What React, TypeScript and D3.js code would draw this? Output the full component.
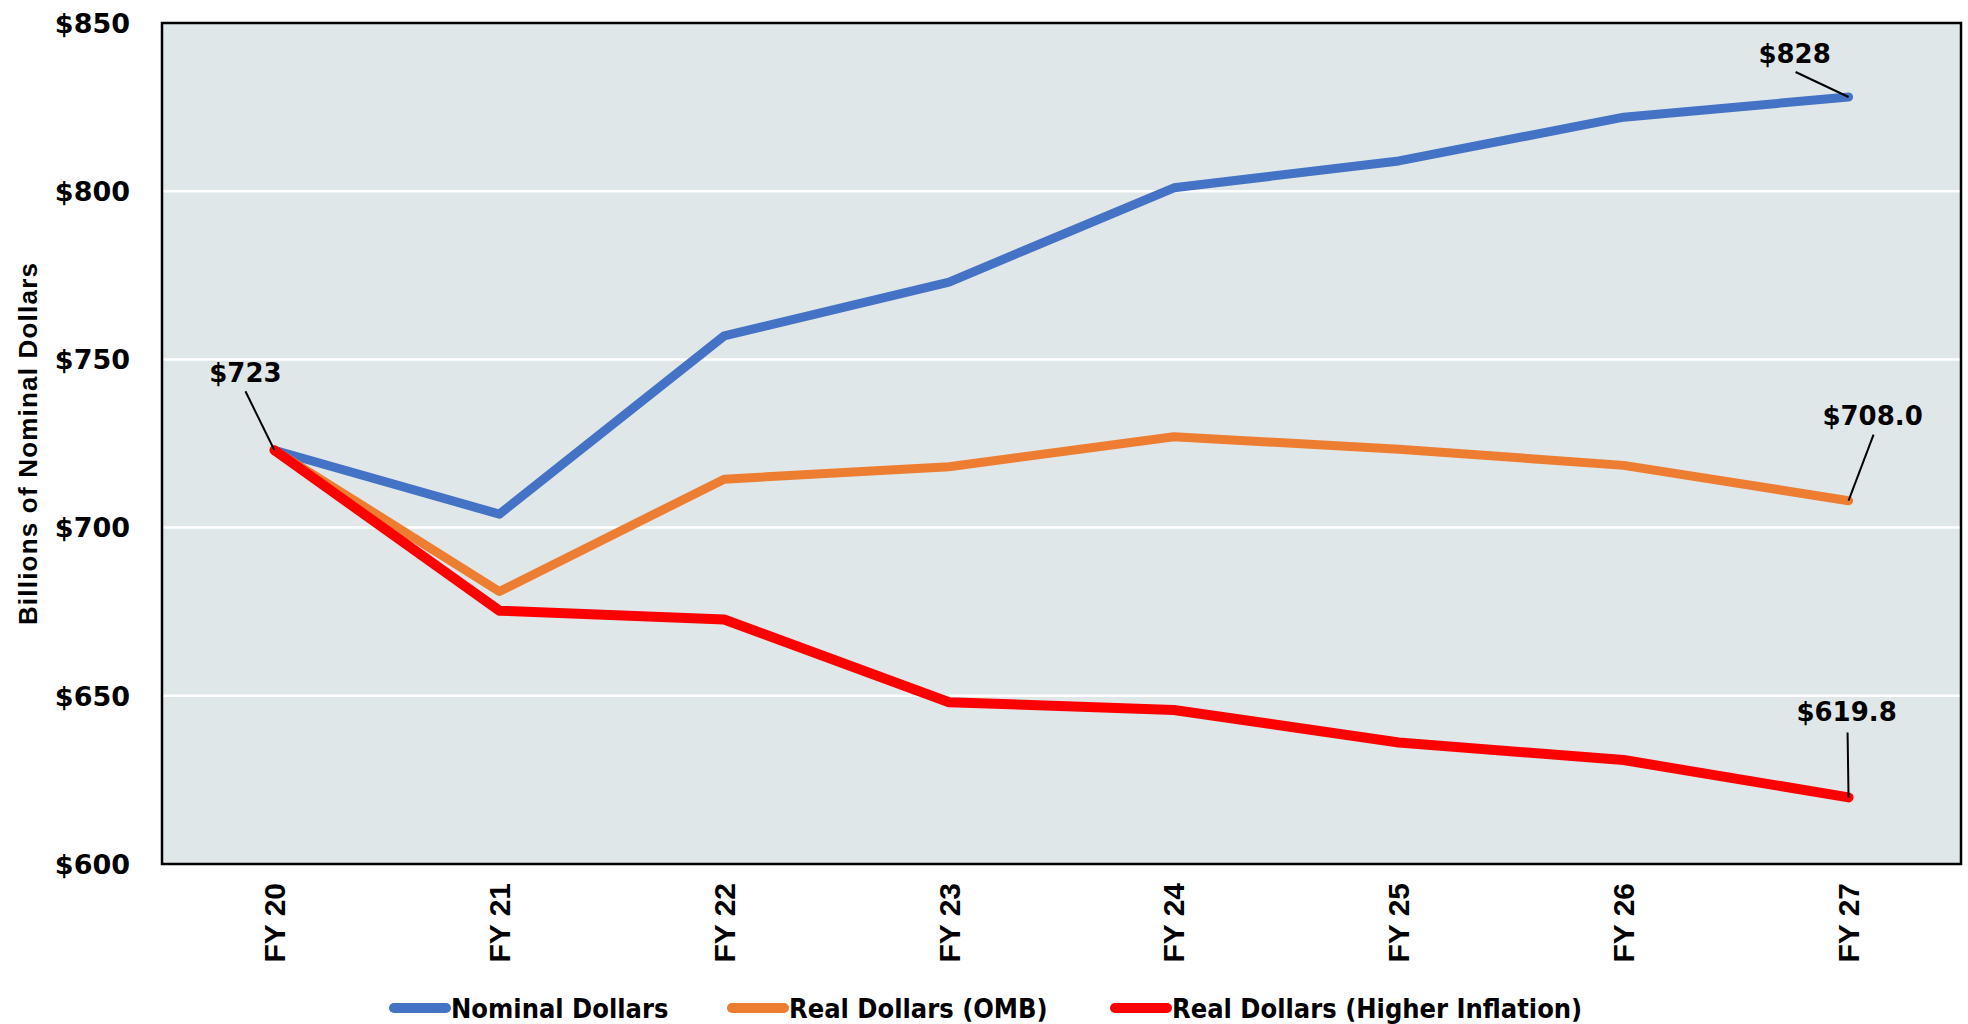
import * as d3 from "d3";
import React, { useRef, useEffect } from "react";

const years = ["FY 20", "FY 21", "FY 22", "FY 23", "FY 24", "FY 25", "FY 26", "FY 27"];
const nominal = [723, 704, 757, 773, 801, 809, 822, 828];
const realOmb = [723, 681, 714.4, 718.1, 727, 723.3, 718.5, 708.0];
const realHigh = [723, 675.3, 672.7, 648.1, 645.8, 636.1, 630.9, 619.8];
const yTicks = [600, 650, 700, 750, 800, 850];

var margin = { top: 23, right: 7, bottom: 160, left: 162 };
const W = 1968;
const H = 1024;

const series = [
  { name: "Nominal Dollars", values: nominal, color: "#4472C4", width: 9 },
  { name: "Real Dollars (OMB)", values: realOmb, color: "#ED7D31", width: 9 },
  { name: "Real Dollars (Higher Inflation)", values: realHigh, color: "#FF0000", width: 10 },
];

// annotation label offsets from the data point (dx, dy of label baseline centre, leader start)
const notes = [
  { s: 0, i: 7, text: "$828", tx: -54, ty: -34, lx: -53, ly: -25 },
  { s: 1, i: 7, text: "$708.0", tx: 24, ty: -76, lx: 25, ly: -66 },
  { s: 2, i: 7, text: "$619.8", tx: -2, ty: -76, lx: -1, ly: -65 },
  { s: 0, i: 0, text: "$723", tx: -29, ty: -68, lx: -29, ly: -59 },
];

const gotham = "'DejaVu Sans', Verdana, sans-serif";
const arial = "'Liberation Sans', Arial, sans-serif";

function App() {
  const ref = useRef<any>();

  useEffect(() => {
    const svg = d3.select(ref.current);
    svg.selectAll("*").remove();
    const width = W - margin.left - margin.right;
    const height = 864 - margin.top;

    const x = d3.scaleBand().domain(years).range([0, width]);
    const y = d3.scaleLinear().domain([600, 850]).range([height, 0]);
    const cx = (d: string) => (x(d) as number) + x.bandwidth() / 2;

    const g = svg.append("g").attr("transform", "translate(" + margin.left + "," + margin.top + ")");

    g.append("rect").attr("width", width).attr("height", height).attr("fill", "#E0E7E9");

    // gridlines
    g.selectAll(".grid")
      .data(yTicks.filter((t) => t > 600 && t < 850))
      .enter()
      .append("line")
      .attr("x1", 0)
      .attr("x2", width)
      .attr("y1", (d: any) => y(d))
      .attr("y2", (d: any) => y(d))
      .attr("stroke", "#ffffff")
      .attr("stroke-width", 2.5);

    // y tick labels
    g.selectAll(".ytick")
      .data(yTicks)
      .enter()
      .append("text")
      .attr("x", -32)
      .attr("y", (d: any) => y(d))
      .attr("dy", "0.36em")
      .attr("text-anchor", "end")
      .attr("font-family", gotham)
      .attr("font-weight", "bold")
      .attr("font-size", 27)
      .attr("fill", "#000")
      .text((d: any) => "$" + d);

    // x tick labels
    g.selectAll(".xtick")
      .data(years)
      .enter()
      .append("text")
      .attr("transform", (d: any) => "translate(" + cx(d) + "," + (height + 19) + ") rotate(-90)")
      .attr("dy", "0.35em")
      .attr("text-anchor", "end")
      .attr("font-family", arial)
      .attr("font-weight", "bold")
      .attr("font-size", 30)
      .attr("fill", "#000")
      .text((d: any) => d);

    const line = d3
      .line<number>()
      .x((d, i) => cx(years[i]))
      .y((d) => y(d));

    series.forEach((s) => {
      g.append("path")
        .attr("d", line(s.values) as string)
        .attr("fill", "none")
        .attr("stroke", s.color)
        .attr("stroke-width", s.width)
        .attr("stroke-linejoin", "round")
        .attr("stroke-linecap", "round");
    });

    // border
    g.append("rect")
      .attr("width", width)
      .attr("height", height)
      .attr("fill", "none")
      .attr("stroke", "#000")
      .attr("stroke-width", 2.5);

    // data labels with leader lines
    notes.forEach((n) => {
      const px = cx(years[n.i]);
      const py = y(series[n.s].values[n.i]);
      g.append("line")
        .attr("x1", px + n.lx)
        .attr("y1", py + n.ly)
        .attr("x2", px)
        .attr("y2", py)
        .attr("stroke", "#000")
        .attr("stroke-width", 2);
      g.append("text")
        .attr("x", px + n.tx)
        .attr("y", py + n.ty)
        .attr("text-anchor", "middle")
        .attr("font-family", gotham)
        .attr("font-weight", "bold")
        .attr("font-size", 26)
        .attr("fill", "#000")
        .text(n.text);
    });

    // y axis title
    svg
      .append("text")
      .attr("transform", "translate(37," + (margin.top + height / 2) + ") rotate(-90)")
      .attr("text-anchor", "middle")
      .attr("font-family", arial)
      .attr("font-weight", "bold")
      .attr("font-size", 26)
      .attr("letter-spacing", 1.2)
      .attr("fill", "#000")
      .text("Billions of Nominal Dollars");

    // legend
    const legendX = [390, 728, 1111];
    const leg = svg.append("g").attr("transform", "translate(0,1008)");
    series.forEach((s, i) => {
      const lg = leg.append("g").attr("transform", "translate(" + legendX[i] + ",0)");
      lg.append("line")
        .attr("x1", 4)
        .attr("x2", 56)
        .attr("stroke", s.color)
        .attr("stroke-width", 10)
        .attr("stroke-linecap", "round");
      lg.append("text")
        .attr("x", 61)
        .attr("dy", "0.36em")
        .attr("font-family", "'DejaVu Sans Condensed', 'Liberation Sans Narrow', sans-serif")
        .attr("font-stretch", "condensed")
        .attr("font-weight", "bold")
        .attr("font-size", 27)
        .attr("fill", "#000")
        .text(s.name);
    });
  }, []);

  return (
    <div className="chart" style={{ position: "absolute", left: 0, top: 0 }}>
      <svg ref={ref} width={W} height={H} style={{ display: "block", background: "#fff" }}></svg>
    </div>
  );
}

export default App;
